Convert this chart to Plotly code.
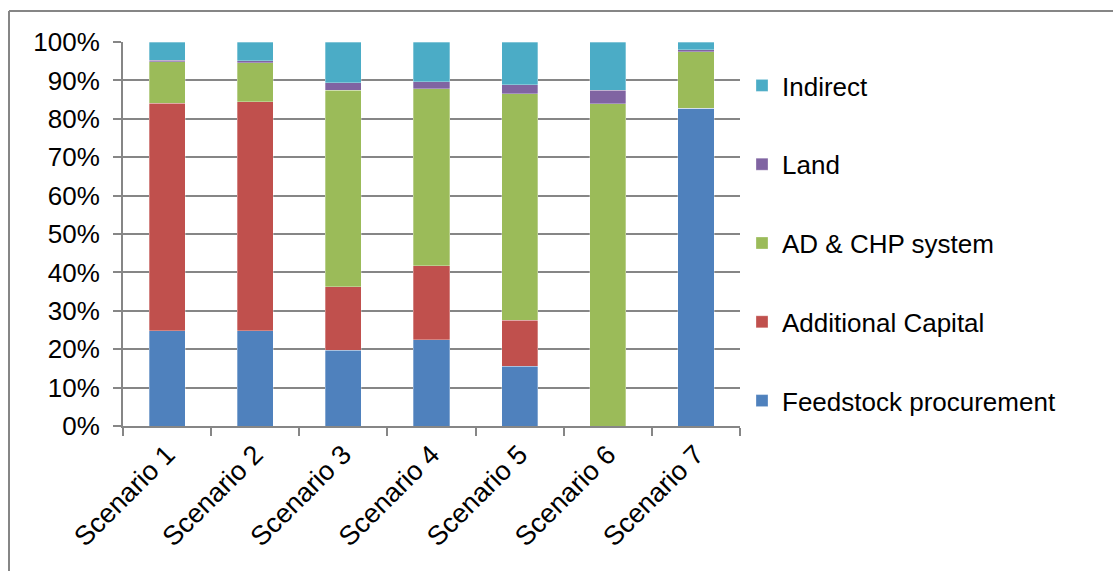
import plotly.graph_objects as go

scenarios = ["Scenario 1", "Scenario 2", "Scenario 3", "Scenario 4",
             "Scenario 5", "Scenario 6", "Scenario 7"]

feedstock = [24.8, 24.8, 19.7, 22.5, 15.6, 0.0, 82.8]
additional_capital = [59.3, 59.7, 16.5, 19.2, 12.0, 0.0, 0.0]
ad_chp = [10.7, 10.1, 51.2, 46.1, 58.9, 83.9, 14.7]
land = [0.4, 0.5, 2.0, 1.9, 2.4, 3.6, 0.5]
indirect = [4.8, 4.9, 10.6, 10.3, 11.1, 12.5, 2.0]

series = [
    ("Feedstock procurement", feedstock, "#4F81BD"),
    ("Additional Capital", additional_capital, "#C0504D"),
    ("AD & CHP system", ad_chp, "#9BBB59"),
    ("Land", land, "#8064A2"),
    ("Indirect", indirect, "#4BACC6"),
]

fig = go.Figure()
for i, (name, vals, color) in enumerate(series):
    fig.add_trace(go.Bar(
        x=scenarios, y=[v / 100 for v in vals], name=name,
        legendgroup=name, legendrank=len(series) - i,
        marker=dict(color=color, line=dict(color="rgba(255,255,255,0.5)", width=0.6)),
    ))

W, H = 1113, 571
L, R, T, B = 123, 740, 42, 426
grid = "#868686"

def px_x(p):
    return (p - L) / (R - L)

def px_y(p):
    return (B - p) / (B - T)

fig.update_layout(
    width=W, height=H,
    margin=dict(l=L, r=W - R, t=T, b=H - B),
    barmode="stack", bargap=0.59,
    plot_bgcolor="white", paper_bgcolor="white",
    font=dict(family="Liberation Sans, Arial, sans-serif", size=26, color="black"),
    showlegend=True,
    legend=dict(
        traceorder="grouped", tracegroupgap=42,
        x=px_x(742), y=px_y(62), xanchor="left", yanchor="top",
        font=dict(size=26), itemwidth=30,
    ),
    xaxis=dict(
        showline=True, linecolor=grid, linewidth=2,
        ticks="outside", tickson="boundaries", ticklen=8, tickcolor=grid, tickwidth=2,
        tickangle=-45, tickfont=dict(size=27),
    ),
    yaxis=dict(
        range=[0, 1], dtick=0.1, tickformat=".0%",
        showgrid=True, gridcolor=grid, gridwidth=2,
        showline=True, linecolor=grid, linewidth=2,
        ticks="outside", ticklen=8, tickcolor=grid, tickwidth=2,
        ticklabelstandoff=8, zeroline=False, tickfont=dict(size=26),
    ),
    shapes=[
        dict(type="line", xref="paper", yref="paper",
             x0=px_x(9), x1=px_x(W + 5), y0=px_y(11), y1=px_y(11),
             line=dict(color=grid, width=2)),
        dict(type="line", xref="paper", yref="paper",
             x0=px_x(9), x1=px_x(9), y0=px_y(11), y1=px_y(H + 5),
             line=dict(color=grid, width=2)),
    ],
)

fig.write_html("out.html")
